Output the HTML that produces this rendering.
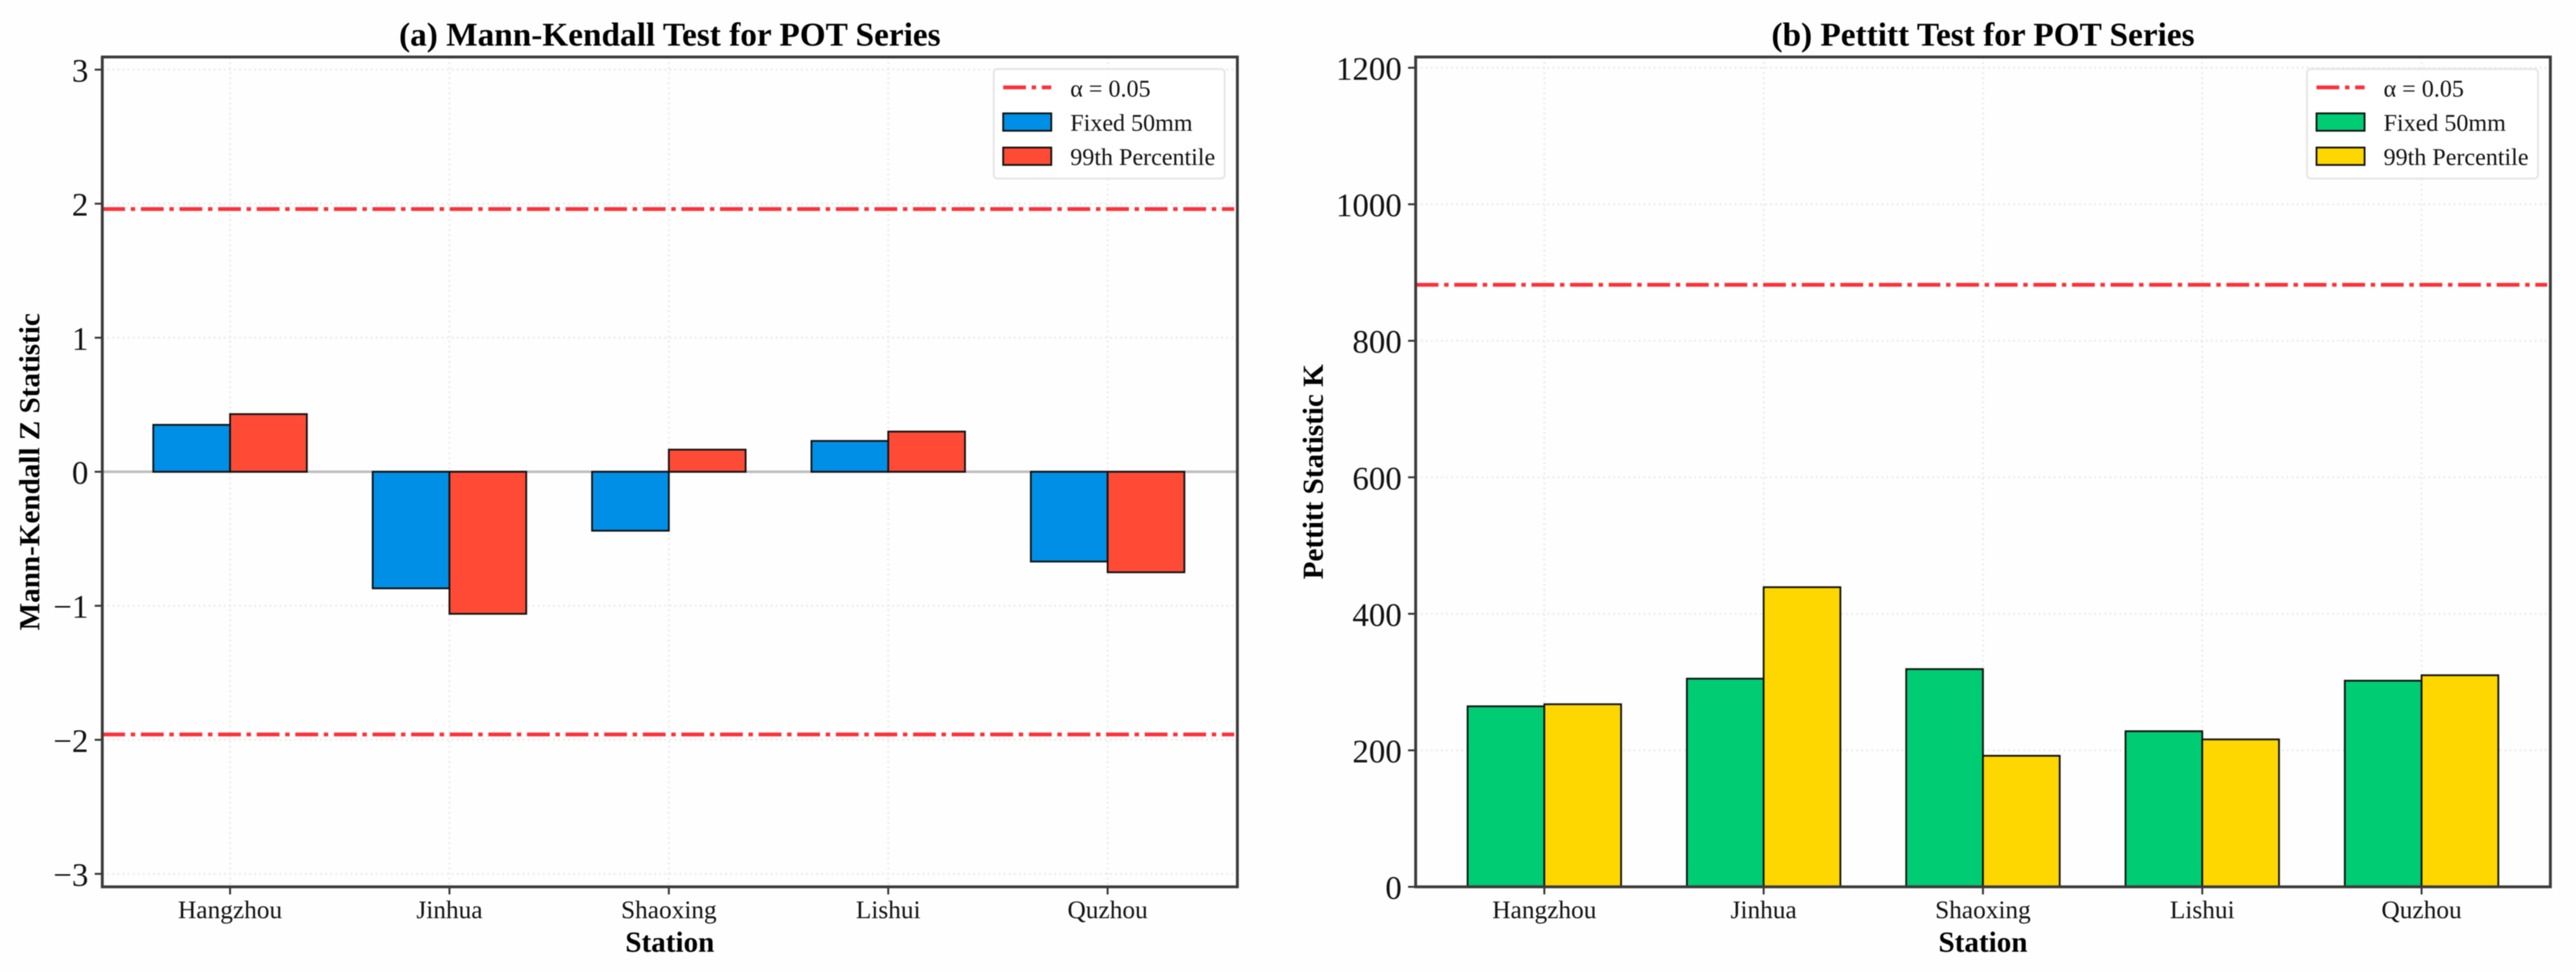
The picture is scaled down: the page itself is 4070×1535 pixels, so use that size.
<!DOCTYPE html>
<html lang="en">
<head>
<meta charset="utf-8">
<title>Mann-Kendall and Pettitt Tests for POT Series</title>
<style>
html,body{margin:0;padding:0;background:#fff;width:4070px;height:1535px;overflow:hidden}
svg{display:block;filter:blur(.8px)}
text{font-family:"Liberation Serif","Times New Roman",serif;text-rendering:geometricPrecision}
</style>
</head>
<body>
<svg id="figure" xmlns="http://www.w3.org/2000/svg" width="4070" height="1535" viewBox="0 0 4070 1535">
<rect x="0" y="0" width="4070" height="1535" fill="#fefefe"/>
<g id="panel-a"></g>
<g id="panel-b"></g>
</svg>
<script>
const stations = ['Hangzhou', 'Jinhua', 'Shaoxing', 'Lishui', 'Quzhou'];

const zFixed = [0.35, -0.87, -0.44, 0.23, -0.67];
const zPercentile = [0.43, -1.06, 0.165, 0.30, -0.75];
const zTicks = [-3, -2, -1, 0, 1, 2, 3];
const zTickLabels = ['\u22123', '\u22122', '\u22121', '0', '1', '2', '3'];
const zCritical = [1.96, -1.96];

const kFixed = [264.5, 305, 319, 228, 302];
const kPercentile = [267.5, 439, 192, 216, 310];
const kTicks = [0, 200, 400, 600, 800, 1000, 1200];
const kTickLabels = ['0', '200', '400', '600', '800', '1000', '1200'];
const kCritical = [882];

const SVGNS = 'http://www.w3.org/2000/svg';
const BAR_WIDTH = 0.35;
const DASH = '36 9 7 9';

function linear(d0, d1, r0, r1) {
  return function (v) { return r0 + (v - d0) * (r1 - r0) / (d1 - d0); };
}

function make(parent, tag, attrs, text) {
  const n = document.createElementNS(SVGNS, tag);
  for (const k in attrs) n.setAttribute(k, attrs[k]);
  if (text !== undefined) n.textContent = text;
  parent.appendChild(n);
  return n;
}

function drawPanel(root, cfg) {
  const x = cfg.x, y = cfg.y, box = cfg.box;
  let n;

  cfg.ticks.forEach(function (t) {
    n = make(root, 'line', {x1: box.l, x2: box.r, y1: y(t), y2: y(t), stroke: '#ebebeb', 'stroke-width': 3, 'stroke-dasharray': '3 5'});
    
    
  });
  stations.forEach(function (s, i) {
    n = make(root, 'line', {x1: x(i), x2: x(i), y1: box.t, y2: box.b, stroke: '#ebebeb', 'stroke-width': 3, 'stroke-dasharray': '3 5'});
    
    
  });

  if (cfg.zeroLine) {
    n = make(root, 'line', {x1: box.l, x2: box.r, y1: y(0), y2: y(0), stroke: '#bdbdbd', 'stroke-width': 4});
    
    
  }

  cfg.critical.forEach(function (c) {
    n = make(root, 'line', {x1: box.l, x2: box.r - 5, y1: y(c), y2: y(c), stroke: '#ff3038', 'stroke-width': 6, 'stroke-dasharray': DASH});
    
    
  });

  function bars(values, offset, color, name) {
    values.forEach(function (v, i) {
      const x0 = x(i + offset), x1 = x(i + offset + BAR_WIDTH);
      const top = Math.min(y(v), y(0)), bottom = Math.max(y(v), y(0));
      n = make(root, 'rect', {x: x0, y: top, width: x1 - x0, height: bottom - top, fill: color, stroke: '#111', 'stroke-width': 2.8});
      
      
    });
  }
  bars(cfg.fixed, -BAR_WIDTH, cfg.fixedColor, 'fixed-50mm');
  bars(cfg.percentile, 0, cfg.percentileColor, '99th-percentile');

  stations.forEach(function (s, i) {
    n = make(root, 'line', {x1: x(i), x2: x(i), y1: box.b, y2: box.b + 12, stroke: '#333', 'stroke-width': 3});
    
    
    n = make(root, 'text', {x: x(i), y: 1450, 'text-anchor': 'middle', 'font-size': 40, fill: '#111'}, s);
    
    
  });
  cfg.ticks.forEach(function (t, i) {
    n = make(root, 'line', {x1: box.l - 12, x2: box.l, y1: y(t), y2: y(t), stroke: '#333', 'stroke-width': 3});
    
    
    n = make(root, 'text', {x: box.l - 22, y: y(t) + 19, 'text-anchor': 'end', 'font-size': 52, fill: '#111'}, cfg.tickLabels[i]);
    
    
  });

  n = make(root, 'rect', {x: box.l, y: box.t, width: box.r - box.l, height: box.b - box.t, fill: 'none', stroke: '#3a3a3a', 'stroke-width': 4.5});
  
  

  n = make(root, 'text', {x: (box.l + box.r) / 2, y: 72, 'text-anchor': 'middle', 'font-size': 52.6, 'font-weight': 'bold', fill: '#000'}, cfg.title);
  
  

  n = make(root, 'text', {x: (box.l + box.r) / 2, y: 1503, 'text-anchor': 'middle', 'font-size': 46, 'font-weight': 'bold', fill: '#000'}, 'Station');
  
  

  n = make(root, 'text', {x: 0, y: 0, transform: 'translate(' + cfg.ylabelX + ' 745) rotate(-90)', 'text-anchor': 'middle', 'font-size': 46, 'font-weight': 'bold', fill: '#000'}, cfg.ylabel);
  
  

  const lg = make(root, 'g', {});
  
  
  const lx = cfg.legendX;
  n = make(lg, 'rect', {x: lx, y: 109, width: 365, height: 173, rx: 6, fill: '#fff', 'fill-opacity': 0.85, stroke: '#e6e6e6', 'stroke-width': 3});
  
  
  n = make(lg, 'line', {x1: lx + 15, x2: lx + 91, y1: 138, y2: 138, stroke: '#ff3038', 'stroke-width': 6, 'stroke-dasharray': DASH});
  
  
  n = make(lg, 'text', {x: lx + 121, y: 152.5, 'font-size': 38, fill: '#111'}, '\u03b1 = 0.05');
  
  
  n = make(lg, 'rect', {x: lx + 15, y: 179, width: 76, height: 27.5, fill: cfg.fixedColor, stroke: '#111', 'stroke-width': 2.8});
  
  
  n = make(lg, 'text', {x: lx + 121, y: 206.5, 'font-size': 38, fill: '#111'}, 'Fixed 50mm');
  
  
  n = make(lg, 'rect', {x: lx + 15, y: 233, width: 76, height: 27.5, fill: cfg.percentileColor, stroke: '#111', 'stroke-width': 2.8});
  
  
  n = make(lg, 'text', {x: lx + 121, y: 260.5, 'font-size': 38, fill: '#111'}, '99th Percentile');
  
  
}

drawPanel(document.getElementById('panel-a'), {
  box: {l: 161.6, r: 1955, t: 90, b: 1400.5},
  x: linear(0, 4, 363.5, 1750),
  y: linear(-3, 3, 1380, 110),
  ticks: zTicks,
  tickLabels: zTickLabels,
  critical: zCritical,
  fixed: zFixed,
  percentile: zPercentile,
  fixedColor: '#008fe6',
  percentileColor: '#ff4b36',
  zeroLine: true,
  title: '(a) Mann-Kendall Test for POT Series',
  ylabel: 'Mann-Kendall Z Statistic',
  ylabelX: 62,
  legendX: 1570
});

drawPanel(document.getElementById('panel-b'), {
  box: {l: 2236.7, r: 4029.5, t: 90, b: 1400.5},
  x: linear(0, 4, 2440, 3826),
  y: linear(0, 1200, 1400.5, 107),
  ticks: kTicks,
  tickLabels: kTickLabels,
  critical: kCritical,
  fixed: kFixed,
  percentile: kPercentile,
  fixedColor: '#00cc73',
  percentileColor: '#ffd700',
  zeroLine: false,
  title: '(b) Pettitt Test for POT Series',
  ylabel: 'Pettitt Statistic K',
  ylabelX: 2090,
  legendX: 3645
});
</script>
</body>
</html>
